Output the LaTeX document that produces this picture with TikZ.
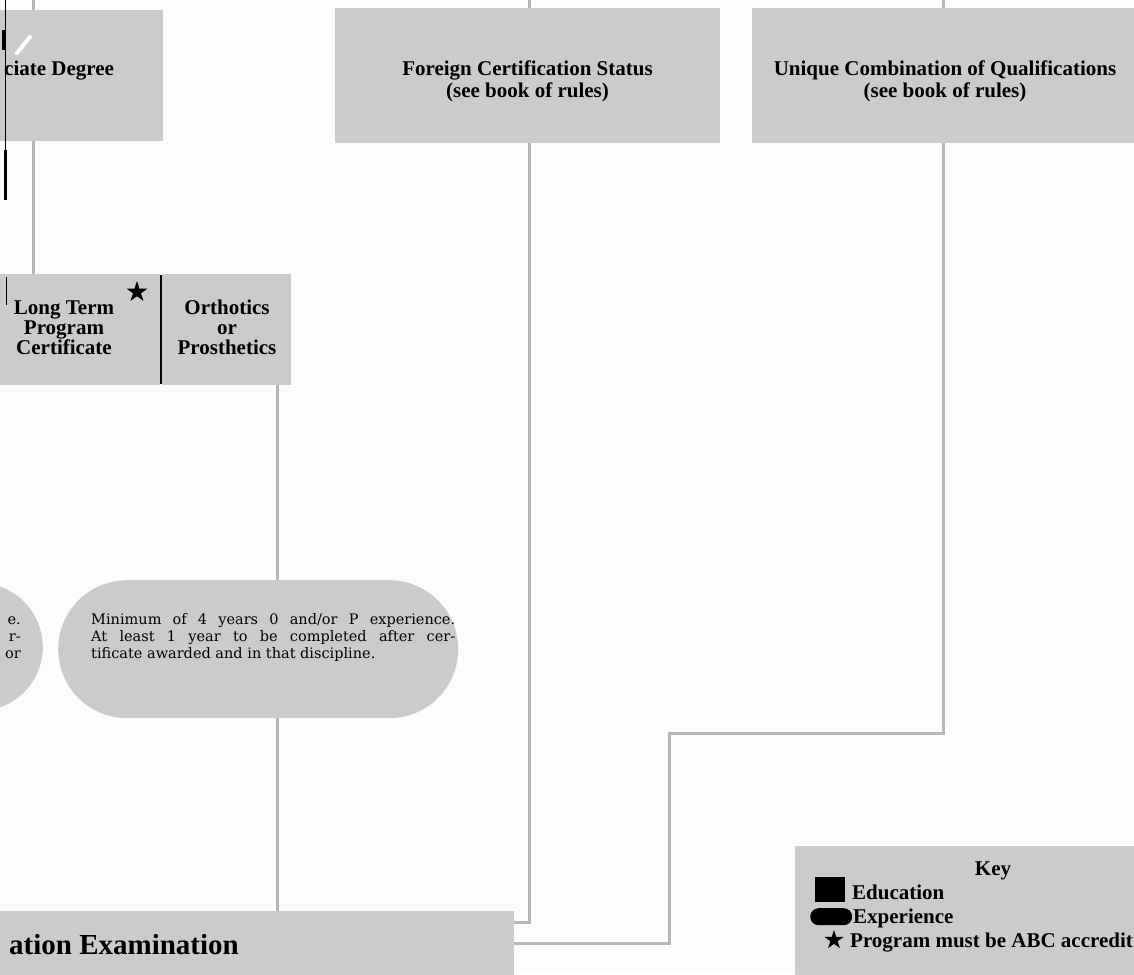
\documentclass[tikz,border=0pt]{standalone}
\usepackage{fontspec}
\setmainfont{Liberation Serif}
\newfontfamily\bodyfont{DejaVu Serif}
\usetikzlibrary{shapes.geometric}
\definecolor{boxgray}{RGB}{203,203,203}
\definecolor{linegray}{RGB}{182,182,182}
\definecolor{bgc}{RGB}{252,252,250}
\tikzset{
  box/.style={rectangle, fill=boxgray, draw=none, inner sep=0pt, anchor=north west},
  pill/.style={rectangle, fill=boxgray, draw=none, inner sep=0pt},
  conn/.style={draw=linegray, line width=3pt},
  head/.style={inner sep=0pt, anchor=base, font=\bfseries\fontsize{21}{21}\selectfont},
  body/.style={inner sep=0pt, font=\bodyfont\fontsize{14.5}{17}\selectfont},
  starmark/.style={star, star points=5, star point ratio=2.6, fill=black, draw=none, inner sep=0pt, minimum size=22pt},
}
\begin{document}
\begin{tikzpicture}[x=1pt,y=-1pt]
\useasboundingbox (0,0) rectangle (1134,974);
\clip (0,0) rectangle (1134,974);
\fill[bgc] (0,0) rectangle (1134,974);

% boxes
\node[box, minimum width=313pt, minimum height=131pt] (assoc) at (-150,10) {};
\node[box, minimum width=385pt, minimum height=135pt] (foreign) at (335,8) {};
\node[box, minimum width=390pt, minimum height=135pt] (unique) at (752,8) {};
\node[box, minimum width=260pt, minimum height=111pt] (longterm) at (-100,274) {};
\node[box, minimum width=129pt, minimum height=111pt] (ortho) at (162,274) {};
\node[pill, anchor=east, minimum width=300pt, minimum height=128pt, rounded corners=64pt] (leftexp) at (43,647) {};
\node[pill, anchor=north west, minimum width=400pt, minimum height=138pt, rounded corners=69pt] (exp) at (58,580) {};
\node[box, minimum width=614pt, minimum height=100pt] (exam) at (-100,911) {};
\node[box, minimum width=350pt, minimum height=140pt] (key) at (795,846) {};

% divider
\draw[black, line width=2pt] (161,275) -- (161,384);

% connector coordinates
\coordinate (ax) at (33,0);
\coordinate (ox) at (277,0);
\coordinate (fx) at (529,0);
\coordinate (ux) at (943,0);
\coordinate (fy) at (0,922);
\coordinate (u1) at (943,733);
\coordinate (u2) at (669,733);
\coordinate (u3) at (669,943);

\draw[conn] (ax) -- (ax |- assoc.north);
\draw[conn] (assoc.south -| ax) -- (longterm.north -| ax);
\draw[conn] (ortho.south -| ox) -- (exp.north -| ox);
\draw[conn] (exp.south -| ox) -- (exam.north -| ox);
\draw[conn] (fx) -- (fx |- foreign.north);
\draw[conn] (foreign.south -| fx) -- (fx |- fy) -- (exam.east |- fy);
\draw[conn] (ux) -- (ux |- unique.north);
\draw[conn] (unique.south -| ux) -- (u1) -- (u2) -- (u3) -- (exam.east |- u3);

% left edge marks
\draw[black, line width=1pt] (5,0) -- (5,200);
\draw[black, line width=4pt] (4,30) -- (4,50);
\draw[black, line width=3pt] (5,150) -- (5,200);
\draw[black, line width=1pt] (6,277) -- (6,305);
\draw[white, line width=4pt, line cap=round] (17,53) -- (30,37);

% texts
\node[head, anchor=base west] (assoctxt) at (4,75) {ciate Degree};
\node[head] (fl1) at (527.5,75) {Foreign Certification Status};
\node[head] (fl2) at (527.5,97) {(see book of rules)};
\node[head] (ul1) at (945,75) {Unique Combination of Qualifications};
\node[head] (ul2) at (945,97) {(see book of rules)};
\node[head] (lt1) at (64,314) {Long Term};
\node[head] (lt2) at (64,334) {Program};
\node[head] (lt3) at (64,354) {Certificate};
\node[starmark] (ltstar) at (137,292) {};
\node[head] (or1) at (227,314) {Orthotics};
\node[head] (or2) at (227,334) {or};
\node[head] (or3) at (227,354) {Prosthetics};

\node[body, anchor=base east] (le1) at (21,624) {e.};
\node[body, anchor=base east] (le2) at (21,641) {r-};
\node[body, anchor=base east] (le3) at (21,658) {or};

\node[body, text width=364pt, align=justify, anchor=base west] (exptxt) at (91,624)
 {Minimum of 4 years 0 and/or P experience.\linebreak
  At least 1 year to be completed after cer-\linebreak
  tificate awarded and in that discipline.};

\node[inner sep=0pt, anchor=base west, font=\bfseries\fontsize{29}{29}\selectfont] (examtxt) at (9,954) {ation Examination};

% key
\node[head] (keyt) at (993,875) {Key};
\node[rectangle, fill=black, inner sep=0pt, anchor=north west, minimum width=30pt, minimum height=25pt] (kedu) at (815,877) {};
\node[rectangle, fill=black, inner sep=0pt, anchor=north west, minimum width=42pt, minimum height=17pt, rounded corners=8.5pt] (kexp) at (810,908) {};
\node[starmark, minimum size=20pt] (kstar) at (834,940) {};
\node[head, anchor=base west] (kt1) at (852,899) {Education};
\node[head, anchor=base west] (kt2) at (853,923) {Experience};
\node[head, anchor=base west] (kt3) at (850,947) {Program must be ABC accredit};
\end{tikzpicture}
\end{document}
